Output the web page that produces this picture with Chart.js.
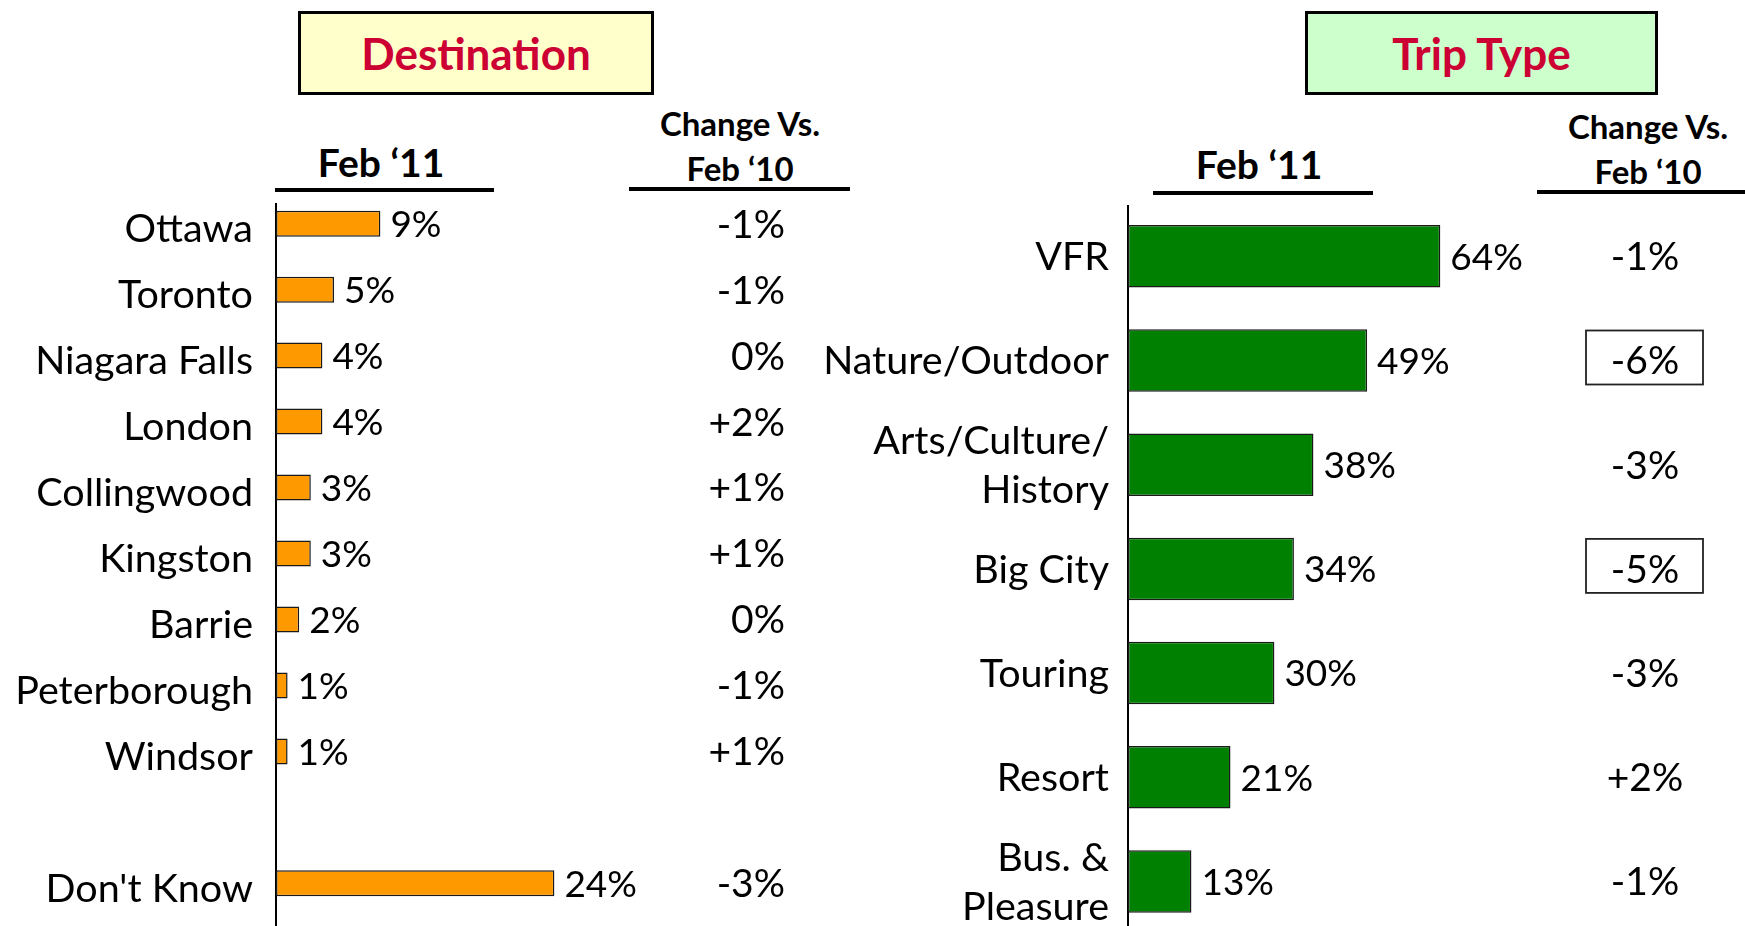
<!DOCTYPE html>
<html><head><meta charset="utf-8">
<script src="https://cdn.jsdelivr.net/npm/chart.js@4.4.1/dist/chart.umd.min.js"></script>
<style>
html,body{margin:0;padding:0;background:#fff;overflow:hidden;width:1745px;height:926px;}
body{position:relative;font-family:Lato,sans-serif;}
.box{position:absolute;box-sizing:border-box;border:3px solid #000;display:flex;align-items:center;justify-content:center;font-weight:bold;color:#CC0033;font-size:44px;}
.hd{position:absolute;font-weight:bold;color:#000;text-align:center;line-height:1;white-space:nowrap;width:300px;}
.ul{position:absolute;background:#000;height:4px;}
canvas{position:absolute;top:0;}
</style></head>
<body>
<div class="box" style="left:298px;top:11px;width:356px;height:84px;background:#FFFFCC;">Destination</div>
<div class="box" style="left:1305px;top:11px;width:353px;height:84px;background:#CCFFCC;">Trip Type</div>

<div class="hd" style="left:231px;top:143px;font-size:39px;">Feb ‘11</div>
<div class="hd" style="left:590px;top:107px;font-size:33px;">Change Vs.</div>
<div class="hd" style="left:590px;top:152px;font-size:33px;">Feb ‘10</div>
<div class="ul" style="left:275px;top:188px;width:219px;"></div>
<div class="ul" style="left:629px;top:187px;width:221px;"></div>

<div class="hd" style="left:1109px;top:145px;font-size:39px;">Feb ‘11</div>
<div class="hd" style="left:1498px;top:110px;font-size:33px;">Change Vs.</div>
<div class="hd" style="left:1498px;top:155px;font-size:33px;">Feb ‘10</div>
<div class="ul" style="left:1153px;top:191px;width:220px;"></div>
<div class="ul" style="left:1537px;top:190px;width:208px;"></div>

<canvas id="c1" width="880" height="940" style="left:0px;"></canvas>
<canvas id="c2" width="965" height="940" style="left:780px;"></canvas>

<script>
// ---- Destination (left) ----
const destCats = ['Ottawa','Toronto','Niagara Falls','London','Collingwood','Kingston','Barrie','Peterborough','Windsor','',"Don't Know"];
const destValues = [9,5,4,4,3,3,2,1,1,null,24];
const destChange = ['-1%','-1%','0%','+2%','+1%','+1%','0%','-1%','+1%','','-3%'];

// ---- Trip Type (right) ----
const tripCats = ['VFR','Nature/Outdoor',['Arts/Culture/','History'],'Big City','Touring','Resort',['Bus. &','Pleasure']];
const tripValues = [64,49,38,34,30,21,13];
const tripChange = ['-1%','-6%','-3%','-5%','-3%','+2%','-1%'];
const tripHighlight = [false,true,false,true,false,false,false];

const annot = {
  id:'annot',
  beforeDatasetsDraw(chart, args, o){
    const ctx = chart.ctx;
    const x0 = chart.scales.x.getPixelForValue(0);
    ctx.save();
    ctx.strokeStyle = '#000'; ctx.lineWidth = 2;
    ctx.beginPath(); ctx.moveTo(x0, o.axisTop); ctx.lineTo(x0, chart.height); ctx.stroke();
    ctx.restore();
  },
  afterDatasetsDraw(chart, args, o){
    const ctx = chart.ctx;
    const ds = chart.data.datasets[0].data;
    const meta = chart.getDatasetMeta(0);
    const yScale = chart.scales.y;
    ctx.save();
    ctx.fillStyle = '#000';
    ctx.textBaseline = 'alphabetic';
    ctx.font = o.valueSize + 'px Lato';
    ctx.textAlign = 'left';
    meta.data.forEach((bar, i) => {
      const v = ds[i];
      if (v == null) return;
      ctx.fillText(v + '%', bar.x + o.gap, bar.y + o.valueSize * 0.358);
    });
    ctx.font = o.changeSize + 'px Lato';
    ctx.textAlign = o.changeAlign;
    o.changes.forEach((t, i) => {
      if (!t) return;
      const y = yScale.getPixelForValue(i);
      ctx.fillText(t, o.changeX, y + o.changeSize * 0.358);
      if (o.highlight && o.highlight[i]) {
        ctx.lineWidth = 1.8; ctx.strokeStyle = '#222';
        ctx.strokeRect(o.changeX - 59, y - 30, 117, 54);
      }
    });
    ctx.restore();
  }
};

function fixY(width){
  return (s) => { s.width = width; s.paddingTop = 0; s.paddingBottom = 0; };
}

new Chart(document.getElementById('c1'), {
  type:'bar',
  data:{labels:destCats, datasets:[{data:destValues, backgroundColor:'#FF9900', borderColor:'#1a1a1a', borderWidth:1.5, borderSkipped:false, barPercentage:0.394, categoryPercentage:1}]},
  options:{
    indexAxis:'y', responsive:false, animation:false,
    layout:{padding:{top:190.7, bottom:23.7, left:0, right:24}},
    plugins:{legend:{display:false}, tooltip:{enabled:false},
      annot:{axisTop:203, gap:10, valueSize:37, changeSize:39, changeX:785, changeAlign:'right', changes:destChange}},
    scales:{
      x:{display:false, min:0, max:50},
      y:{grid:{display:false, drawTicks:false}, border:{display:false},
         ticks:{color:'#000', font:{family:'Lato', size:39.5}, padding:23, labelOffset:6},
         afterFit:fixY(276)}
    }
  },
  plugins:[annot]
});

new Chart(document.getElementById('c2'), {
  type:'bar',
  data:{labels:tripCats, datasets:[{data:tripValues, backgroundColor:'#008000', borderColor:'#1a1a1a', borderWidth:1.5, borderSkipped:false, barPercentage:0.6, categoryPercentage:1}]},
  options:{
    indexAxis:'y', responsive:false, animation:false,
    layout:{padding:{top:204.2, bottom:6.4, left:0, right:129}},
    plugins:{legend:{display:false}, tooltip:{enabled:false},
      annot:{axisTop:205, gap:10, valueSize:37, changeSize:39, changeX:865, changeAlign:'center', changes:tripChange, highlight:tripHighlight}},
    scales:{
      x:{display:false, min:0, max:100},
      y:{grid:{display:false, drawTicks:false}, border:{display:false},
         ticks:{color:'#000', font:{family:'Lato', size:39.5, lineHeight:1.24}, padding:19, labelOffset:1},
         afterFit:fixY(348)}
    }
  },
  plugins:[annot]
});
</script>
</body></html>
